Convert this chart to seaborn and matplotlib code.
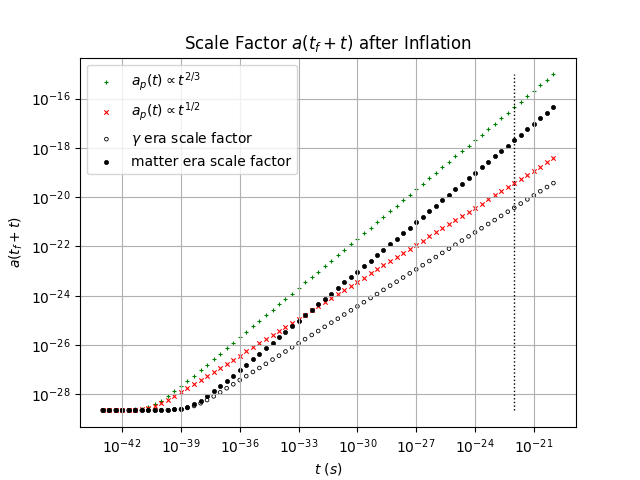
import numpy as np
import matplotlib
matplotlib.use("Agg")
import matplotlib.pyplot as plt
import seaborn as sns

# tempo t (s): expoentes de 10, passo de 1/3 de decada, de 1e-43 a 1e-20
t_exp = [-43.0, -42.67, -42.33, -42.0, -41.67, -41.33, -41.0, -40.67, -40.33, -40.0,
         -39.67, -39.33, -39.0, -38.67, -38.33, -38.0, -37.67, -37.33, -37.0, -36.67,
         -36.33, -36.0, -35.67, -35.33, -35.0, -34.67, -34.33, -34.0, -33.67, -33.33,
         -33.0, -32.67, -32.33, -32.0, -31.67, -31.33, -31.0, -30.67, -30.33, -30.0,
         -29.67, -29.33, -29.0, -28.67, -28.33, -28.0, -27.67, -27.33, -27.0, -26.67,
         -26.33, -26.0, -25.67, -25.33, -25.0, -24.67, -24.33, -24.0, -23.67, -23.33,
         -23.0, -22.67, -22.33, -22.0, -21.67, -21.33, -21.0, -20.67, -20.33, -20.0]

# log10 do fator de escala
log_a_23 = [-28.65, -28.65, -28.65, -28.64, -28.63, -28.61, -28.58, -28.51, -28.41, -28.26,
            -28.08, -27.88, -27.67, -27.46, -27.24, -27.02, -26.79, -26.57, -26.35, -26.13,
            -25.91, -25.68, -25.46, -25.24, -25.02, -24.79, -24.57, -24.35, -24.13, -23.91,
            -23.68, -23.46, -23.24, -23.02, -22.79, -22.57, -22.35, -22.13, -21.91, -21.68,
            -21.46, -21.24, -21.02, -20.79, -20.57, -20.35, -20.13, -19.91, -19.68, -19.46,
            -19.24, -19.02, -18.79, -18.57, -18.35, -18.13, -17.91, -17.68, -17.46, -17.24,
            -17.02, -16.79, -16.57, -16.35, -16.13, -15.91, -15.68, -15.46, -15.24, -15.02]

log_a_12 = [-28.65, -28.65, -28.65, -28.64, -28.64, -28.62, -28.60, -28.55, -28.47, -28.36,
            -28.23, -28.08, -27.92, -27.75, -27.59, -27.42, -27.26, -27.09, -26.93, -26.76,
            -26.59, -26.43, -26.26, -26.09, -25.93, -25.76, -25.59, -25.43, -25.26, -25.09,
            -24.93, -24.76, -24.59, -24.43, -24.26, -24.09, -23.93, -23.76, -23.59, -23.43,
            -23.26, -23.09, -22.93, -22.76, -22.59, -22.43, -22.26, -22.09, -21.93, -21.76,
            -21.59, -21.43, -21.26, -21.09, -20.93, -20.76, -20.59, -20.43, -20.26, -20.09,
            -19.93, -19.76, -19.59, -19.43, -19.26, -19.09, -18.93, -18.76, -18.59, -18.43]

log_a_gamma = [-28.65, -28.65, -28.65, -28.65, -28.65, -28.65, -28.65, -28.65, -28.65, -28.64,
               -28.64, -28.62, -28.60, -28.55, -28.47, -28.36, -28.23, -28.08, -27.92, -27.75,
               -27.59, -27.42, -27.26, -27.09, -26.93, -26.76, -26.59, -26.43, -26.26, -26.09,
               -25.93, -25.76, -25.59, -25.43, -25.26, -25.09, -24.93, -24.76, -24.59, -24.43,
               -24.26, -24.09, -23.93, -23.76, -23.59, -23.43, -23.26, -23.09, -22.93, -22.76,
               -22.59, -22.43, -22.26, -22.09, -21.93, -21.76, -21.59, -21.43, -21.26, -21.09,
               -20.93, -20.76, -20.59, -20.43, -20.26, -20.09, -19.93, -19.76, -19.59, -19.43]

log_a_mat = [-28.65, -28.65, -28.65, -28.65, -28.65, -28.65, -28.65, -28.65, -28.65, -28.64,
             -28.63, -28.61, -28.58, -28.51, -28.41, -28.26, -28.08, -27.88, -27.67, -27.46,
             -27.24, -27.02, -26.79, -26.57, -26.35, -26.13, -25.91, -25.68, -25.46, -25.24,
             -25.02, -24.79, -24.57, -24.35, -24.13, -23.91, -23.68, -23.46, -23.24, -23.02,
             -22.79, -22.57, -22.35, -22.13, -21.91, -21.68, -21.46, -21.24, -21.02, -20.79,
             -20.57, -20.35, -20.13, -19.91, -19.68, -19.46, -19.24, -19.02, -18.79, -18.57,
             -18.35, -18.13, -17.91, -17.68, -17.46, -17.24, -17.02, -16.79, -16.57, -16.35]

t_linha = 1e-22   # linha vertical pontilhada

t = 10.0 ** np.array(t_exp)
a23 = 10.0 ** np.array(log_a_23)
a12 = 10.0 ** np.array(log_a_12)
agam = 10.0 ** np.array(log_a_gamma)
amat = 10.0 ** np.array(log_a_mat)

fig, ax = plt.subplots(figsize=(6.4, 4.8), dpi=100)

sns.scatterplot(x=t, y=a23, marker="+", color="green", s=10, linewidth=0.8,
                label=r"$a_p(t) \propto t^{2/3}$", ax=ax)
sns.scatterplot(x=t, y=a12, marker="x", color="red", s=10, linewidth=0.8,
                label=r"$a_p(t) \propto t^{1/2}$", ax=ax)
sns.scatterplot(x=t, y=agam, marker="o", facecolor="none", edgecolor="black", s=7,
                linewidth=0.6, label=r"$\gamma$ era scale factor", ax=ax)
sns.scatterplot(x=t, y=amat, marker=".", color="black", edgecolor="black", s=36,
                linewidth=0.5, label="matter era scale factor", ax=ax)

ax.vlines(t_linha, amat.min(), a23.max(), colors="black", linestyles=":", linewidth=1)

ax.set_xscale("log")
ax.set_yscale("log")
ax.grid(True)
ax.set_title(r"Scale Factor $a(t_f + t)$ after Inflation")
ax.set_xlabel(r"$t\ (s)$")
ax.set_ylabel(r"$a(t_f + t)$")
ax.legend(loc="upper left")

plt.savefig("out.png")
